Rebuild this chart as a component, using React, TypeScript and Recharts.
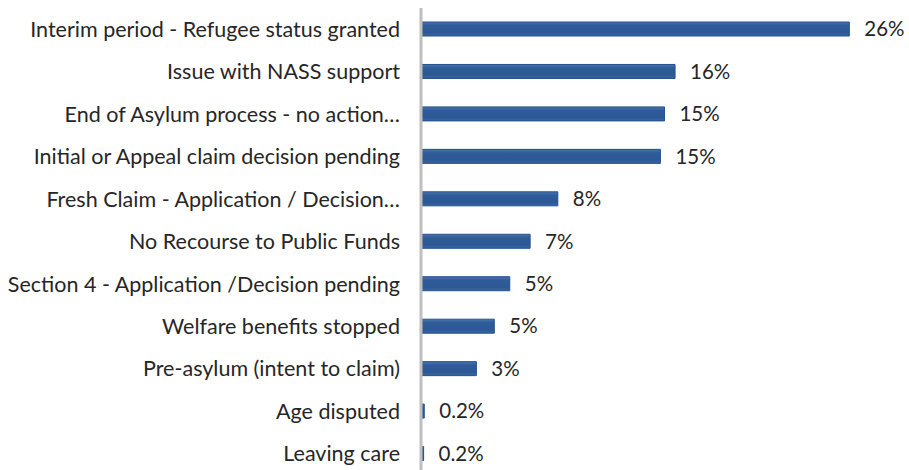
import React from "react";
import { BarChart, Bar, XAxis, YAxis, LabelList } from "recharts";

const categories = [
  "Interim period - Refugee status granted",
  "Issue with NASS support",
  "End of Asylum process - no action…",
  "Initial or Appeal claim decision pending",
  "Fresh Claim - Application / Decision…",
  "No Recourse to Public Funds",
  "Section 4 - Application /Decision pending",
  "Welfare benefits stopped",
  "Pre-asylum (intent to claim)",
  "Age disputed",
  "Leaving care",
];

const shares = [26.3, 15.6, 14.95, 14.7, 8.4, 6.7, 5.45, 4.5, 3.4, 0.2, 0.16];

const shareLabels = ["26%", "16%", "15%", "15%", "8%", "7%", "5%", "5%", "3%", "0.2%", "0.2%"];

const rows = categories.map((name, i) => ({
  name,
  value: shares[i],
  label: shareLabels[i],
}));

const FONT = "Lato, 'Open Sans', sans-serif";

export default function App() {
  return (
    <div
      style={{
        position: "absolute",
        left: 0,
        top: 0,
        width: 909,
        height: 470,
        overflow: "hidden",
        background: "#fff",
      }}
    >
      <BarChart
        width={909}
        height={475}
        data={rows}
        layout="vertical"
        margin={{ top: 8, right: 32, bottom: 0, left: 0 }}
      >
        <defs>
          <linearGradient id="barFill" x1="0" y1="0" x2="0" y2="1">
            <stop offset="0%" stopColor="#4a74ad" />
            <stop offset="25%" stopColor="#2f5c98" />
            <stop offset="75%" stopColor="#2c5995" />
            <stop offset="100%" stopColor="#3a66a2" />
          </linearGradient>
        </defs>
        <XAxis type="number" hide domain={[0, 28]} />
        <YAxis
          type="category"
          dataKey="name"
          width={421}
          interval={0}
          tickLine={false}
          tickMargin={15}
          axisLine={{ stroke: "#bfbfbf", strokeWidth: 3 }}
          tick={{ fill: "#262626", fontSize: 21.5, fontFamily: FONT }}
        />
        <Bar
          dataKey="value"
          barSize={14}
          fill="url(#barFill)"
          stroke="#22508c"
          strokeWidth={1}
          isAnimationActive={false}
        >
          <LabelList
            dataKey="label"
            position="right"
            offset={15}
            style={{ fill: "#262626", fontSize: 20.5, fontFamily: FONT }}
          />
        </Bar>
      </BarChart>
    </div>
  );
}
